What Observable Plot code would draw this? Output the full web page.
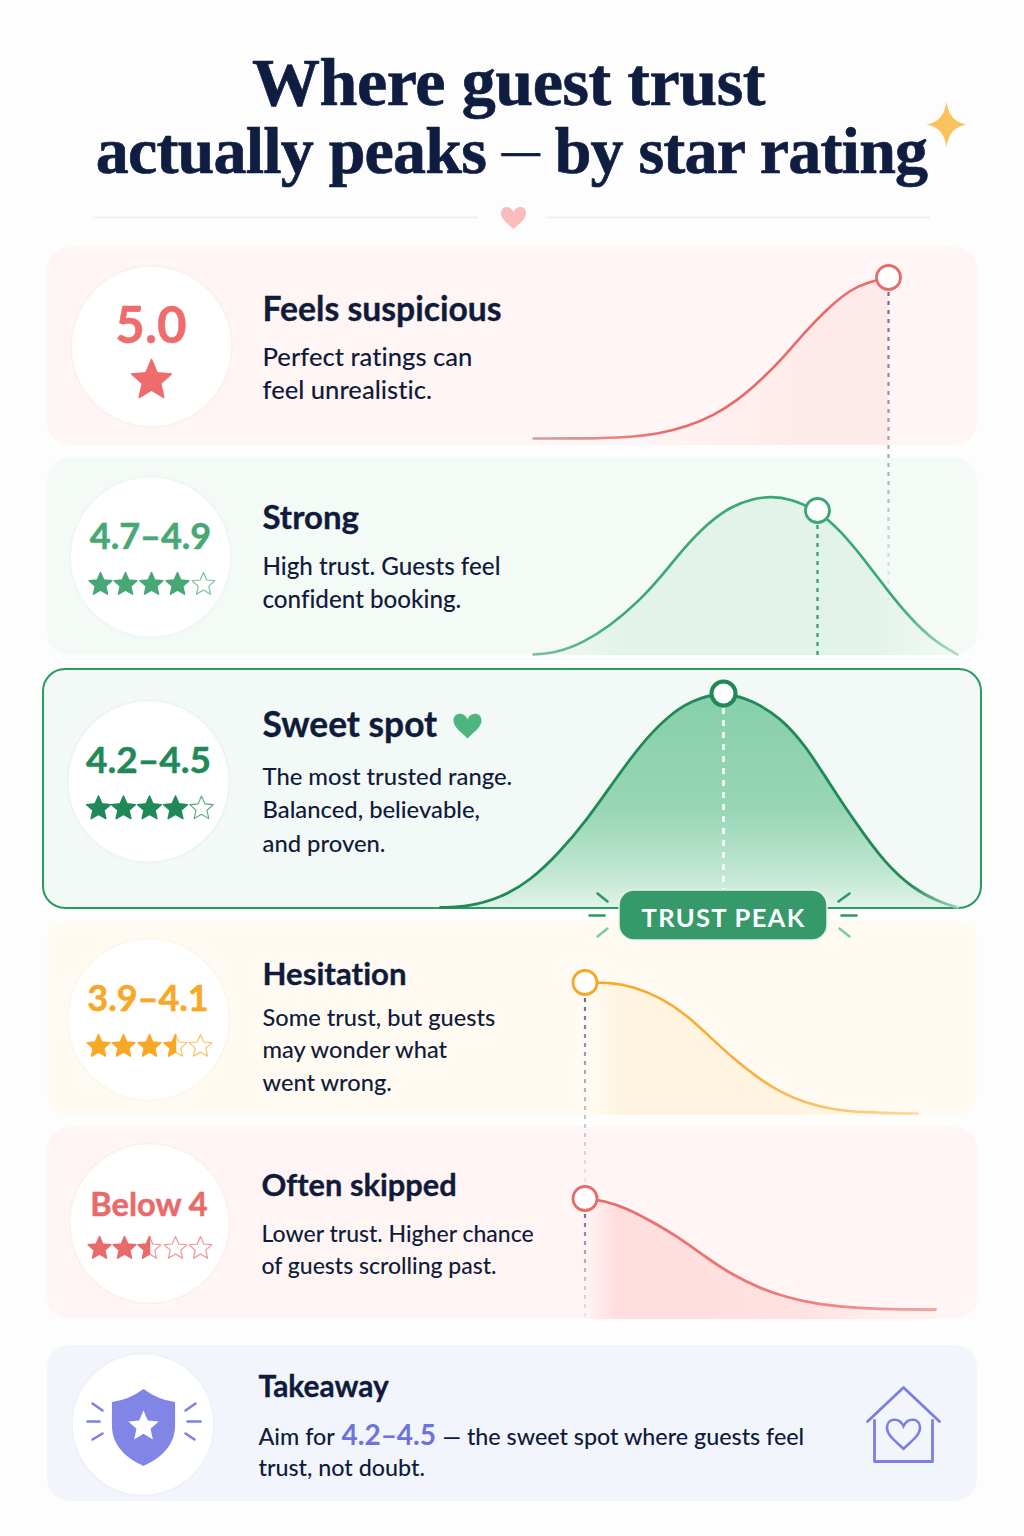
<!DOCTYPE html>
<html lang="en">
<head>
<meta charset="utf-8">
<title>Where guest trust actually peaks</title>
<script src="https://cdn.jsdelivr.net/npm/d3@7"></script>
<script src="https://cdn.jsdelivr.net/npm/@observablehq/plot@0.6"></script>
<style>
  html, body { margin: 0; padding: 0; background: #fdfdfe; }
  #chart svg { display: block; }
  #chart text { font-variant-ligatures: none; }
</style>
</head>
<body>
<div id="chart"></div>
<script>
// ---------- chart content ----------
const titleLines = ["Where guest trust", "actually peaks — by star rating"];
const bands = ["5.0", "4.7–4.9", "4.2–4.5", "3.9–4.1", "Below 4"];
const headlines = ["Feels suspicious", "Strong", "Sweet spot", "Hesitation", "Often skipped"];
const notes = [
  ["Perfect ratings can", "feel unrealistic."],
  ["High trust. Guests feel", "confident booking."],
  ["The most trusted range.", "Balanced, believable,", "and proven."],
  ["Some trust, but guests", "may wonder what", "went wrong."],
  ["Lower trust. Higher chance", "of guests scrolling past."]
];
const starsEarned = [null, 4, 4, 3.5, 2.5];
const peakLabel = "TRUST PEAK";
const takeawayHead = "Takeaway";
const takeawayParts = ["Aim for", "4.2–4.5", "— the sweet spot where guests feel", "trust, not doubt."];

// curves in chart units
const suspiciousX = [533, 587, 627, 660, 687, 713, 737, 760, 783, 803, 827, 850, 867, 888];
const suspiciousY = [438, 438, 437, 433, 426, 415, 400, 380, 357, 333, 308, 289, 282, 277];
const strongX = [533, 557, 583, 610, 637, 660, 683, 707, 730, 753, 770, 790, 817, 840, 863, 887, 910, 933, 957];
const strongY = [654, 652, 642, 625, 602, 577, 548, 523, 506, 498, 496, 498, 510, 530, 558, 590, 618, 640, 654];
const sweetX = [440, 468, 499, 530, 558, 586, 614, 641, 666, 690, 723, 752, 780, 805, 829, 857, 884, 912, 940, 957];
const sweetY = [907, 906, 898, 880, 853, 820, 780, 743, 717, 700, 691, 700, 717, 745, 783, 825, 862, 888, 902, 907];
const hesitationX = [585, 610, 633, 660, 687, 710, 733, 757, 780, 807, 833, 860, 917];
const hesitationY = [982, 982, 986, 997, 1015, 1037, 1058, 1077, 1092, 1103, 1109, 1112, 1113];
const skippedX = [585, 603, 627, 653, 680, 707, 733, 760, 787, 813, 847, 893, 935];
const skippedY = [1198, 1200, 1208, 1222, 1238, 1258, 1275, 1288, 1297, 1303, 1307, 1309, 1309];

// ---------- symbols ----------
const starPoints = (R) => d3.range(10).map((i) => {
  const a = -Math.PI / 2 + i * Math.PI / 5, q = i % 2 ? R * 0.46 : R;
  return [q * Math.cos(a), q * Math.sin(a)];
});
const polySymbol = (pts) => ({draw(c, size) {
  const R = Math.sqrt(size / Math.PI);
  pts(R).forEach(([x, y], i) => i ? c.lineTo(x, y) : c.moveTo(x, y));
  c.closePath();
}});
const starSymbol = polySymbol(starPoints);
const halfStarSymbol = polySymbol((R) => {
  const p = starPoints(R);
  return [p[0], p[9], p[8], p[7], p[6], p[5]];
});
const heartSymbol = {draw(c, size) {
  const R = Math.sqrt(size / Math.PI);
  c.moveTo(0, R * 0.92);
  c.bezierCurveTo(-R * 0.5, R * 0.45, -R, R * 0.1, -R, -R * 0.35);
  c.bezierCurveTo(-R, -R * 0.95, -R * 0.25, -R * 1.0, 0, -R * 0.45);
  c.bezierCurveTo(R * 0.25, -R * 1.0, R, -R * 0.95, R, -R * 0.35);
  c.bezierCurveTo(R, R * 0.1, R * 0.5, R * 0.45, 0, R * 0.92);
  c.closePath();
}};
const sparkleSymbol = {draw(c, size) {
  const R = Math.sqrt(size / Math.PI), W = R * 0.87, k = 0.12;
  c.moveTo(0, -R);
  c.quadraticCurveTo(W * k, -R * k, W, 0);
  c.quadraticCurveTo(W * k, R * k, 0, R);
  c.quadraticCurveTo(-W * k, R * k, -W, 0);
  c.quadraticCurveTo(-W * k, -R * k, 0, -R);
  c.closePath();
}};
const shieldSymbol = {draw(c, size) {
  const R = Math.sqrt(size / Math.PI);
  c.moveTo(0, -R);
  c.quadraticCurveTo(R * 0.38, -R * 0.72, R * 0.82, -R * 0.66);
  c.lineTo(R * 0.82, -R * 0.05);
  c.bezierCurveTo(R * 0.82, R * 0.5, R * 0.4, R * 0.82, 0, R);
  c.bezierCurveTo(-R * 0.4, R * 0.82, -R * 0.82, R * 0.5, -R * 0.82, -R * 0.05);
  c.lineTo(-R * 0.82, -R * 0.66);
  c.quadraticCurveTo(-R * 0.38, -R * 0.72, 0, -R);
  c.closePath();
}};

// ---------- layout ----------
const SANS = "Lato, 'Noto Sans', sans-serif";
const SERIF = "'Liberation Serif', 'DejaVu Serif', serif";
const INK = "#101b3c";
const cards = [
  {top: 247, bottom: 445, fill: "#fff5f4", cx: 151, cy: 346, r: 80.5, ring: "#fdf0ef", color: "#ee6c6c", bandX: 150.5, bandY: 342.5, bandSize: 51,
   headY: 320, headSize: 33.7, noteX: 262, noteY: [365, 398], noteSize: 25.6, starX: [151], starY: 380, starR: 21},
  {top: 458, bottom: 655, fill: "#f4faf6", cx: 150, cy: 556.5, r: 80.5, ring: "#eff7f2", color: "#45a875", bandX: 150, bandY: 548, bandSize: 36,
   headY: 528, headSize: 33, noteX: 262, noteY: [574, 607], noteSize: 24.2, starX: [100, 125, 151, 177, 203], starY: 584, starR: 12},
  {top: 669, bottom: 908, fill: "#f3f9f6", cx: 148, cy: 781, r: 81, ring: "#ecf5f0", color: "#1f8a57", bandX: 148, bandY: 772, bandSize: 37,
   headY: 736, headSize: 35.3, noteX: 262, noteY: [784, 817, 851], noteSize: 23.8, starX: [98, 123, 149, 175, 201], starY: 808, starR: 12.5},
  {top: 920, bottom: 1115, fill: "#fffbf3", cx: 148, cy: 1019, r: 81, ring: "#fdf7ea", color: "#f9a826", bandX: 147.5, bandY: 1010, bandSize: 36,
   headY: 984, headSize: 31.2, noteX: 262, noteY: [1025, 1057, 1090], noteSize: 23.6, starX: [98, 123, 149, 175, 200], starY: 1046, starR: 12},
  {top: 1127, bottom: 1319, fill: "#fff5f4", cx: 149, cy: 1223, r: 80, ring: "#fdf0ef", color: "#e96a6a", bandX: 148.5, bandY: 1215, bandSize: 32.6,
   headY: 1195, headSize: 30.8, noteX: 261, noteY: [1241, 1273], noteSize: 23, starX: [99, 124, 149, 175, 200], starY: 1248, starR: 12}
];
const headX = [262, 262, 262, 262, 261];

const table = (xs, ys) => xs.map((x, i) => ({x, y: ys[i]}));
const curves = [
  {rows: table(suspiciousX, suspiciousY), base: 445, line: "url(#l0)", area: "url(#a0)", width: 2.6},
  {rows: table(strongX, strongY), base: 655, line: "url(#l1)", area: "url(#a1)", width: 2.6},
  {rows: table(sweetX, sweetY), base: 907, line: "url(#l2)", area: "url(#a2)", width: 2.8},
  {rows: table(hesitationX, hesitationY), base: 1115, line: "url(#l3)", area: "url(#a3)", width: 2.6},
  {rows: table(skippedX, skippedY), base: 1319, line: "url(#l4)", area: "url(#a4)", width: 2.8}
];

// gradients are placed through the chart's own scales
const grad = (id, horizontal, a, b, stops) => ({id, horizontal, a, b, stops});
const gradients = [
  grad("a0", true, 640, 800, [[0, "#feebe9", 0], [1, "#feebe9", 1]]),
  grad("a1", true, 533, 960, [[0, "#e2f3ea", 0], [.22, "#e2f3ea", 1], [.8, "#e2f3ea", 1], [1, "#e2f3ea", 0]]),
  grad("a2", false, 692, 908, [[0, "#86cfaa", 1], [.55, "#98d6b6", 1], [.85, "#c2e7d3", 1], [1, "#e2f3ea", 1]]),
  grad("a3", true, 585, 880, [[0, "#fff5e3", 0], [.12, "#fff4df", 1], [.7, "#fff4df", 1], [1, "#fff4df", .4]]),
  grad("a4", true, 585, 900, [[0, "#ffdedd", 0], [.1, "#ffdedd", 1], [.7, "#ffe2e1", 1], [1, "#ffe2e1", .2]]),
  grad("l0", true, 533, 680, [[0, "#c9a4a4", 1], [.5, "#ea8484", 1], [1, "#e96a6a", 1]]),
  grad("l1", true, 533, 960, [[0, "#7cc39e", 1], [.2, "#3aa873", 1], [.85, "#3aa873", 1], [1, "#b8e0ca", 1]]),
  grad("l2", true, 440, 960, [[0, "#1f8a57", 1], [.9, "#1f8a57", 1], [1, "#a5d9bd", 1]]),
  grad("l3", true, 585, 917, [[0, "#f7a823", 1], [.5, "#f9b13c", 1], [1, "#fddc9c", 1]]),
  grad("l4", true, 585, 935, [[0, "#e96a6a", 1], [.6, "#ec7c7c", 1], [1, "#f4a5a5", 1]]),
  grad("d0", false, 290, 600, [[0, "#5c6688", .95], [.6, "#7b84a0", .6], [1, "#7b84a0", .1]]),
  grad("d3", false, 998, 1185, [[0, "#5c6688", .95], [.6, "#8a92ac", .55], [1, "#8a92ac", .15]]),
  grad("d4", false, 1214, 1320, [[0, "#5c6688", .9], [1, "#8a92ac", .15]])
];
const defsMark = (index, {x, y}) => {
  const defs = d3.create("svg:defs");
  for (const g of gradients) {
    const n = defs.append("linearGradient").attr("id", g.id).attr("gradientUnits", "userSpaceOnUse");
    if (g.horizontal) n.attr("x1", x(g.a)).attr("x2", x(g.b)).attr("y1", 0).attr("y2", 0);
    else n.attr("y1", y(g.a)).attr("y2", y(g.b)).attr("x1", 0).attr("x2", 0);
    for (const [o, c, a] of g.stops) n.append("stop").attr("offset", o).attr("stop-color", c).attr("stop-opacity", a);
  }
  return defs.node();
};

const one = [0];
const text = (rows, o) => Plot.text(rows, {
  x: "x", y: "y", text: "text", lineAnchor: "bottom", textAnchor: "start",
  fontFamily: SANS, fill: INK, ...o
});
const rays = (rows, o) => Plot.link(rows, {x1: (d) => d[0], y1: (d) => d[1], x2: (d) => d[2], y2: (d) => d[3], strokeLinecap: "round", ...o});
const dashed = (x, y1, y2, stroke, w = 2.2, dash = "4 5") =>
  Plot.ruleX([x], {y1, y2, stroke, strokeWidth: w, strokeDasharray: dash});

const marks = [
  defsMark,
  // title block
  text([{x: 508, y: 104, text: titleLines[0]}],
    {fontFamily: SERIF, fontWeight: 700, fontSize: 68, textAnchor: "middle", fill: "#0f1d40", stroke: "#0f1d40", strokeWidth: .7}),
  text([{x: 511, y: 172, text: titleLines[1]}],
    {fontFamily: SERIF, fontWeight: 700, fontSize: 66, textAnchor: "middle", fill: "#0f1d40", stroke: "#0f1d40", strokeWidth: .7}),
  Plot.dot(one, {x: () => 946, y: () => 124, r: 23, symbol: sparkleSymbol, fill: "#f9c25c"}),
  Plot.ruleY([217], {x1: 93, x2: 478, stroke: "#eff1f1", strokeWidth: 2}),
  Plot.ruleY([217], {x1: 547, x2: 930, stroke: "#eff1f1", strokeWidth: 2}),
  Plot.dot(one, {x: () => 513, y: () => 217, r: 12.5, symbol: heartSymbol, fill: "#f8bcbc"}),
  // cards
  Plot.rect(cards, {x1: (d, i) => i === 2 ? 43 : 47, x2: (d, i) => i === 2 ? 981 : 977, y1: "top", y2: "bottom",
    fill: "fill", rx: 22, stroke: (d, i) => i === 2 ? "#2a9a62" : "none", strokeWidth: 2}),
  // area + line of every curve
  ...curves.map((c) => Plot.areaY(c.rows, {x: "x", y1: c.base, y2: "y", curve: "basis", fill: c.area})),
  ...curves.map((c) => Plot.line(c.rows, {x: "x", y: "y", curve: "basis", stroke: c.line, strokeWidth: c.width})),
  // droplines
  dashed(888, 292, 600, "url(#d0)"),
  dashed(817, 525, 655, "#2f9e6c"),
  dashed(723, 708, 890, "#ffffff", 2.6, "6 6"),
  dashed(584.5, 998, 1185, "url(#d3)"),
  dashed(584.5, 1214, 1320, "url(#d4)"),
  // peak markers
  Plot.dot([
    {x: 888, y: 277, c: "#e96a6a", w: 2.8}, {x: 817, y: 510, c: "#3aa873", w: 2.8},
    {x: 723, y: 693, c: "#1f8a57", w: 4}, {x: 584.5, y: 982, c: "#f7a823", w: 2.8}, {x: 584.5, y: 1198, c: "#e96a6a", w: 2.8}
  ], {x: "x", y: "y", r: 12, fill: "white", stroke: "c", strokeWidth: "w"}),
  // rating discs and labels
  Plot.dot(cards, {x: "cx", y: "cy", r: "r", fill: "#ffffff", stroke: "ring", strokeWidth: 2}),
  ...cards.map((c, i) => text([{x: c.bandX, y: c.bandY, text: bands[i]}],
    {fontSize: c.bandSize, fontWeight: 700, fill: c.color, stroke: c.color, strokeWidth: .5, textAnchor: "middle"})),
  ...cards.flatMap((c, i) => {
    const earned = starsEarned[i];
    const rows = c.starX.map((x, k) => ({x, y: c.starY, k}));
    if (earned === null) return [Plot.dot(rows, {x: "x", y: "y", r: c.starR, symbol: starSymbol, fill: c.color, stroke: c.color, strokeLinejoin: "round"})];
    return [
      Plot.dot(rows.filter((d) => d.k + 1 > earned), {x: "x", y: "y", r: c.starR, symbol: starSymbol, fill: "white", stroke: c.color, strokeWidth: 1.1, strokeOpacity: .75, strokeLinejoin: "round"}),
      Plot.dot(rows.filter((d) => d.k + 1 <= earned), {x: "x", y: "y", r: c.starR, symbol: starSymbol, fill: c.color, stroke: c.color, strokeLinejoin: "round"}),
      Plot.dot(rows.filter((d) => d.k + 1 > earned && d.k < earned), {x: "x", y: "y", r: c.starR, symbol: halfStarSymbol, fill: c.color, stroke: c.color, strokeLinejoin: "round"})
    ];
  }),
  // card copy
  ...cards.map((c, i) => text([{x: headX[i], y: c.headY, text: headlines[i]}], {fontSize: c.headSize, fontWeight: 700, stroke: INK, strokeWidth: .35})),
  ...cards.map((c, i) => text(notes[i].map((t, k) => ({x: c.noteX, y: c.noteY[k], text: t})), {fontSize: c.noteSize, fontWeight: 500})),
  Plot.dot(one, {x: () => 467, y: () => 725, r: 14, symbol: heartSymbol, fill: "#4fb57f"}),
  // trust peak pill
  Plot.rect(one, {x1: () => 619, x2: () => 827, y1: () => 890, y2: () => 940, rx: 15, fill: "#35996a", stroke: "#e4f3ea", strokeWidth: 1.5}),
  text([{x: 723, y: 926, text: peakLabel}], {fontSize: 25.5, fontWeight: 700, fill: "#ffffff", textAnchor: "middle"}),
  rays([[597, 893, 607, 901], [589, 915, 604, 915], [849, 893, 838, 901], [841, 915, 856, 915]], {stroke: "#2f9568", strokeWidth: 2.5}),
  rays([[597, 936, 607, 928], [839, 928, 849, 936]], {stroke: "#7fc9a3", strokeWidth: 2.5}),
  // takeaway
  Plot.rect(one, {x1: () => 47, x2: () => 977, y1: () => 1345, y2: () => 1501, rx: 22, fill: "#f3f5fd"}),
  Plot.dot(one, {x: () => 142.5, y: () => 1424, r: 71, fill: "#ffffff", stroke: "#eff1fb", strokeWidth: 2}),
  Plot.dot(one, {x: () => 143, y: () => 1427, r: 38.5, symbol: shieldSymbol, fill: "#8186e6"}),
  Plot.dot(one, {x: () => 143, y: () => 1426, r: 16, symbol: starSymbol, fill: "#ffffff"}),
  rays([[92, 1403, 102, 1410], [87, 1421, 99, 1421], [92, 1439, 102, 1433], [185, 1410, 195, 1403], [187, 1421, 200, 1421], [185, 1433, 194, 1439]], {stroke: "#7b80e5", strokeWidth: 2.5}),
  text([{x: 258, y: 1396, text: takeawayHead}], {fontSize: 29.9, fontWeight: 700, stroke: INK, strokeWidth: .35}),
  text([{x: 258, y: 1444, text: takeawayParts[0]}, {x: 442, y: 1444, text: takeawayParts[2]}, {x: 258, y: 1475, text: takeawayParts[3]}], {fontSize: 23.3, fontWeight: 500}),
  text([{x: 341, y: 1444, text: takeawayParts[1]}], {fontSize: 28, fontWeight: 700, fill: "#6c72e0"}),
  // house icon
  Plot.line(table([867, 903, 939], [1421, 1387, 1421]), {x: "x", y: "y", stroke: "#7a7fe0", strokeWidth: 2.8, strokeLinecap: "round", strokeLinejoin: "round"}),
  Plot.line(table([874, 874, 932, 932], [1420, 1461, 1461, 1420]), {x: "x", y: "y", stroke: "#7a7fe0", strokeWidth: 2.8, strokeLinecap: "round", strokeLinejoin: "round"}),
  Plot.dot(one, {x: () => 903, y: () => 1433, r: 16.5, symbol: heartSymbol, fill: "none", stroke: "#7a7fe0", strokeWidth: 2.6})
];

const chart = Plot.plot({
  width: 1024, height: 1536, margin: 0,
  x: {domain: [0, 1024], range: [0, 1024], axis: null},
  y: {domain: [0, 1536], range: [0, 1536], axis: null},
  r: {type: "identity"},
  style: {background: "#fdfdfe"},
  marks
});
// letter-spacing and the narrower em dash are set on the text Plot drew, keeping each line one string
const textNamed = (s) => [...chart.querySelectorAll("text")].find((n) => n.textContent === s);
textNamed(titleLines[0]).style.letterSpacing = "-0.4px";
textNamed(peakLabel).style.letterSpacing = "1.3px";
const t2 = textNamed(titleLines[1]);
t2.style.letterSpacing = "-0.8px";
const [before, after] = titleLines[1].split("—");
t2.textContent = "";
const addSpan = (s, attrs) => {
  const n = document.createElementNS("http://www.w3.org/2000/svg", "tspan");
  for (const k in attrs) n.setAttribute(k, attrs[k]);
  n.textContent = s;
  t2.append(n);
};
addSpan(before, {});
addSpan("—", {"font-size": 38, dy: -9});
addSpan(after, {dy: 9});
document.getElementById("chart").append(chart);
</script>
</body>
</html>
